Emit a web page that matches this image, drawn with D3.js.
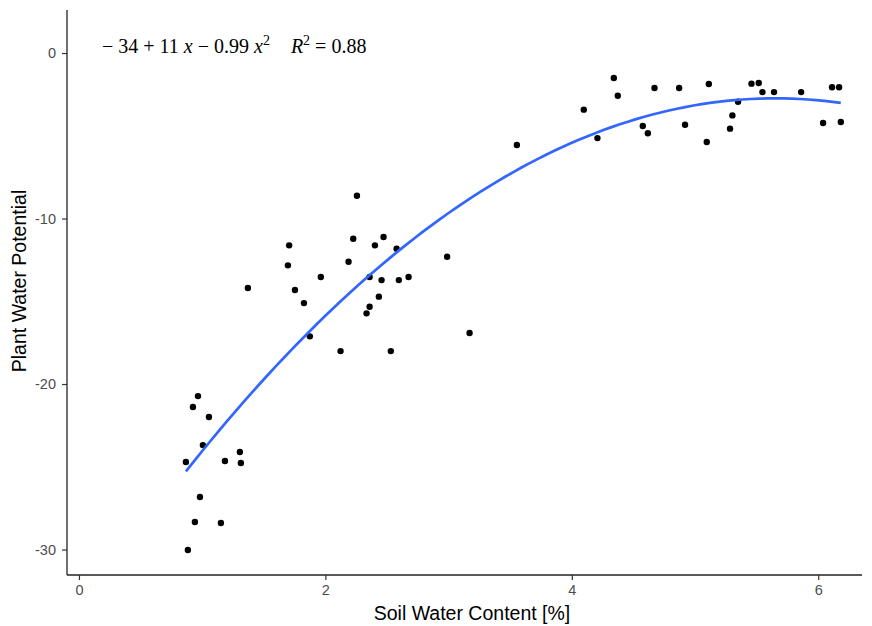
<!DOCTYPE html>
<html><head><meta charset="utf-8">
<script src="https://cdn.jsdelivr.net/npm/d3@7"></script>
<style>body{margin:0;background:#fff}</style>
</head><body>
<svg id="chart" width="872" height="626"></svg>
<script>
const soilWater = [0.868,0.884,0.925,0.941,0.966,0.982,1.006,1.055,1.152,1.185,1.306,1.314,1.371,
  2.256,1.706,2.226,2.472,2.402,2.578,1.696,2.188,2.988,1.963,2.359,2.456,2.596,2.675,1.753,1.826,2.434,2.359,2.334,1.874,3.170,2.123,2.531,
  3.554,
  4.341,4.373,4.097,4.208,4.671,4.871,5.112,4.576,4.617,4.919,5.095,5.284,5.303,5.349,5.458,5.517,5.547,5.641,5.861,6.039,6.112,6.169,6.183];
const plantWater = [-24.71,-30.03,-21.39,-28.34,-20.73,-26.83,-23.69,-21.99,-28.40,-24.65,-24.11,-24.77,-14.20,
  -8.62,-11.62,-11.22,-11.12,-11.62,-11.82,-12.83,-12.61,-12.31,-13.53,-13.53,-13.72,-13.72,-13.53,-14.32,-15.11,-14.72,-15.33,-15.73,-17.12,-16.92,-18.01,-18.01,
  -5.56,
  -1.51,-2.58,-3.42,-5.14,-2.11,-2.11,-1.87,-4.41,-4.85,-4.33,-5.38,-4.57,-3.77,-2.94,-1.85,-1.81,-2.36,-2.36,-2.36,-4.23,-2.07,-2.07,-4.17];
const xTicks = [0,2,4,6];
const yTicks = [0,-10,-20,-30];
const xTitle = "Soil Water Content [%]";
const yTitle = "Plant Water Potential";

const svg = d3.select("#chart");
const L=67, R=862, T=10, B=575;
const x = d3.scaleLinear().domain([-0.097,6.355]).range([L,R]);
const y = d3.scaleLinear().domain([-31.54,2.6]).range([B,T]);

// quadratic least squares fit
function fitQuad(xs, ys){
  let n=xs.length, S=[0,0,0,0,0], Ty=[0,0,0];
  for(let i=0;i<n;i++){const a=xs[i],b=ys[i];
    for(let k=0;k<5;k++) S[k]+=Math.pow(a,k);
    for(let k=0;k<3;k++) Ty[k]+=b*Math.pow(a,k);}
  const M=[[S[0],S[1],S[2],Ty[0]],[S[1],S[2],S[3],Ty[1]],[S[2],S[3],S[4],Ty[2]]];
  for(let i=0;i<3;i++){for(let j=i+1;j<3;j++){const f=M[j][i]/M[i][i];for(let k=i;k<4;k++)M[j][k]-=f*M[i][k];}}
  const c=[0,0,0];
  for(let i=2;i>=0;i--){let s=M[i][3];for(let k=i+1;k<3;k++)s-=M[i][k]*c[k];c[i]=s/M[i][i];}
  return c;
}
const coef = fitQuad(soilWater, plantWater);
const xmin=d3.min(soilWater), xmax=d3.max(soilWater);
const curve = d3.range(0,81).map(i=>{const xv=xmin+(xmax-xmin)*i/80;return [xv,coef[0]+coef[1]*xv+coef[2]*xv*xv];});

// points
svg.append("g").selectAll("circle").data(soilWater).join("circle")
  .attr("cx",(d)=>x(d)).attr("cy",(d,i)=>y(plantWater[i])).attr("r",3.2).attr("fill","#000");

svg.append("path").datum(curve)
  .attr("d",d3.line().x(d=>x(d[0])).y(d=>y(d[1])).curve(d3.curveLinear))
  .attr("fill","none").attr("stroke","#3366FF").attr("stroke-width",2.7);

// axes
const xa = svg.append("g").attr("transform",`translate(0,${B})`)
  .call(d3.axisBottom(x).tickValues(xTicks).tickSize(5).tickPadding(5).tickFormat(d3.format("d")));
const ya = svg.append("g").attr("transform",`translate(${L},0)`)
  .call(d3.axisLeft(y).tickValues(yTicks).tickSize(5).tickPadding(6).tickFormat(d=>d===0?"0":"-"+Math.abs(d)));
[xa,ya].forEach(g=>{
  g.select(".domain").attr("stroke","#222").attr("stroke-width",1.3);
  g.selectAll(".tick line").attr("stroke","#333").attr("stroke-width",1.2);
  g.selectAll(".tick text").attr("fill","#4d4d4d").attr("font-family","Liberation Sans, Arial, sans-serif").attr("font-size",14.5);
});
xa.select(".domain").attr("d",`M${L},0H${R}`);
ya.select(".domain").attr("d",`M0,${T}V${B}`);

svg.append("text").attr("x",472).attr("y",620).attr("text-anchor","middle")
  .attr("font-family","Liberation Sans, Arial, sans-serif").attr("font-size",19.5).attr("fill","#000").text(xTitle);
svg.append("text").attr("transform",`translate(26,281) rotate(-90)`).attr("text-anchor","middle")
  .attr("font-family","Liberation Sans, Arial, sans-serif").attr("font-size",19.5).attr("fill","#000").text(yTitle);

// equation
const eq = svg.append("text").attr("x",102).attr("y",53)
  .attr("font-family","Liberation Serif, Times New Roman, serif").attr("font-size",20).attr("fill","#000");
eq.append("tspan").text("\u2212 34 + 11 ");
eq.append("tspan").attr("font-style","italic").text("x");
eq.append("tspan").text(" \u2212 0.99 ");
eq.append("tspan").attr("font-style","italic").text("x");
eq.append("tspan").attr("font-size",14).attr("dy",-8).text("2");
eq.append("tspan").attr("dx",21).attr("dy",8).attr("font-style","italic").text("R");
eq.append("tspan").attr("font-size",14).attr("dy",-8).text("2");
eq.append("tspan").attr("dy",8).text(" = 0.88");
</script>
</body></html>
